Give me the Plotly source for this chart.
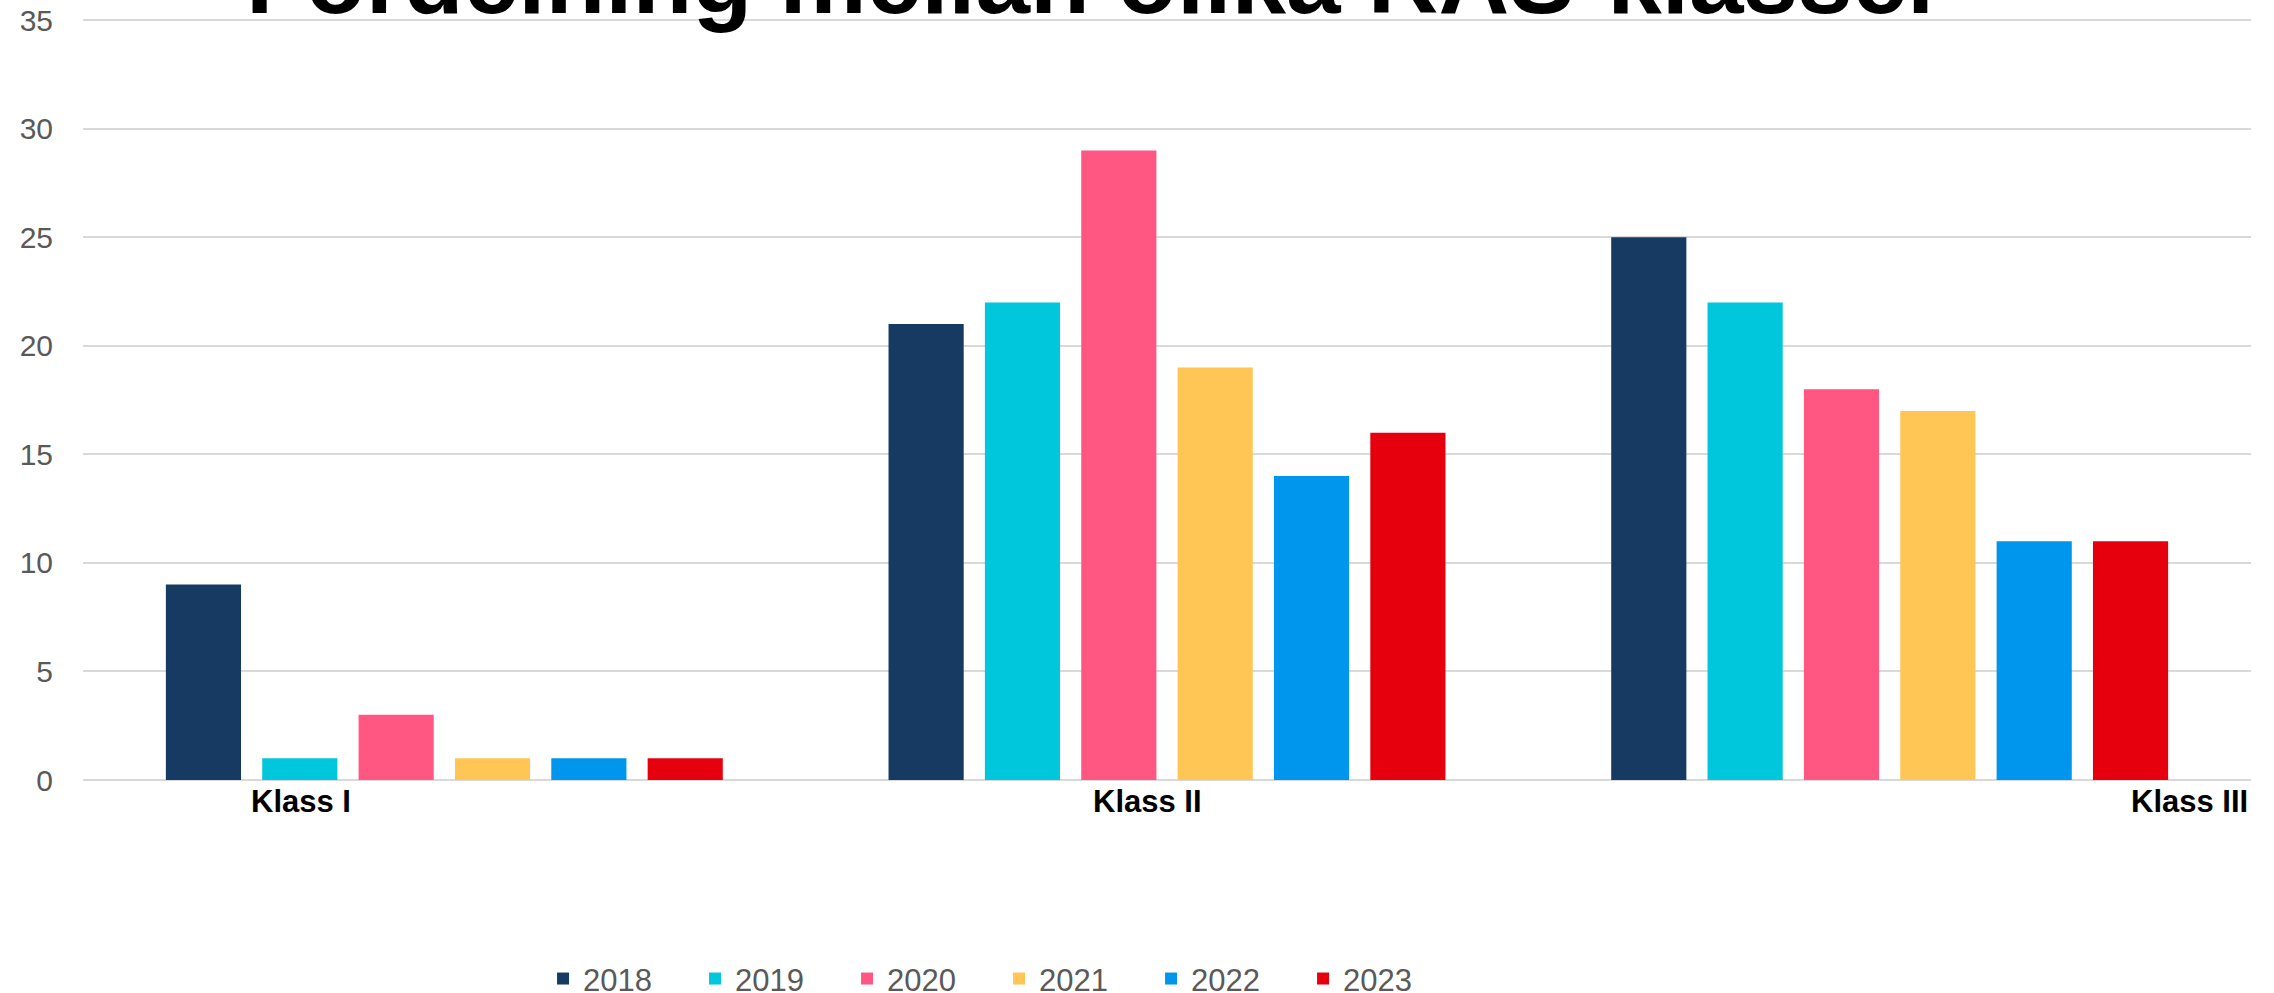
import plotly.graph_objects as go

categories = ["Klass I", "Klass II", "Klass III"]
years = ["2018", "2019", "2020", "2021", "2022", "2023"]
values = {
    "2018": [9, 21, 25],
    "2019": [1, 22, 22],
    "2020": [3, 29, 18],
    "2021": [1, 19, 17],
    "2022": [1, 14, 11],
    "2023": [1, 16, 11],
}
colors = ["#163A62", "#00C7DB", "#FF5782", "#FFC655", "#0096ED", "#E6000E"]
yticks = [0, 5, 10, 15, 20, 25, 30, 35]
title_text = "Fördelning mellan olika RAS-klasser"
label_shifts = [-143, -20, 300]

FONT = "Arial, Liberation Sans, sans-serif"

fig = go.Figure()
for yr, col in zip(years, colors):
    fig.add_trace(go.Bar(name=yr, x=categories, y=values[yr], marker_color=col,
                         marker_line_width=0))

annotations = []
for cat, sh in zip(categories, label_shifts):
    annotations.append(dict(x=cat, xref="x", y=0, yref="paper", yanchor="top",
                            xanchor="center", xshift=sh, yshift=-2, showarrow=False,
                            text="<b>%s</b>" % cat,
                            font=dict(family=FONT, size=31, color="#000000")))
annotations.append(dict(x=0.467, xref="paper", y=1, yref="paper", yanchor="bottom",
                        xanchor="center", yshift=-18, showarrow=False,
                        text="<b>%s</b>" % title_text,
                        font=dict(family=FONT, size=98, color="#000000")))

fig.update_layout(
    width=2274, height=993,
    margin=dict(l=83, r=23, t=18, b=213, autoexpand=False),
    paper_bgcolor="white", plot_bgcolor="white",
    barmode="group", bargap=0.2, bargroupgap=0.22,
    font=dict(family=FONT, size=30, color="#595959"),
    showlegend=True,
    legend=dict(orientation="h", x=0.2122, xanchor="left", y=-0.261, yanchor="middle",
                font=dict(family=FONT, size=31, color="#595959"),
                itemwidth=30, entrywidth=107, traceorder="normal"),
    annotations=annotations,
)
fig.update_xaxes(showticklabels=False, showgrid=False, showline=False, ticks="")
fig.update_yaxes(range=[0, 35.1], tickvals=yticks, showgrid=True, gridcolor="#D9D9D9",
                 gridwidth=1.5, zeroline=True, zerolinecolor="#D9D9D9", zerolinewidth=1.5,
                 showline=False, ticks="", ticklen=0, ticklabelstandoff=29,
                 ticklabeloverflow="allow",
                 tickfont=dict(size=30, color="#595959"))

fig.write_html("out.html", config={"displayModeBar": False},
               post_script="document.body.style.margin='0';document.body.style.overflow='hidden';")
